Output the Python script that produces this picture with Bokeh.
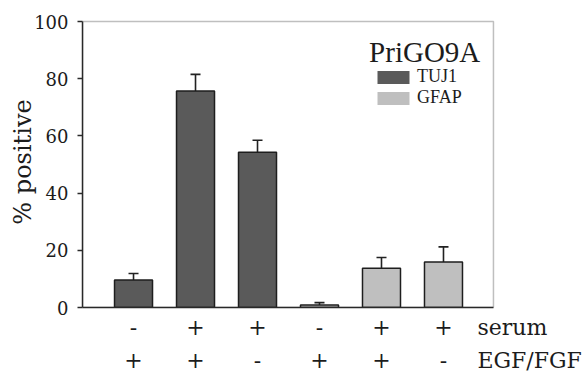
from bokeh.plotting import figure
from bokeh.models import (Range1d, FixedTicker, LinearAxis, Label, Legend, LegendItem,
                          Whisker, TeeHead, ColumnDataSource, BoxAnnotation)
from bokeh.embed import file_html
from bokeh.resources import INLINE

# ---- data ----
markers = ["TUJ1", "TUJ1", "TUJ1", "GFAP", "GFAP", "GFAP"]
serum = ["-", "+", "+", "-", "+", "+"]
egf_fgf = ["+", "+", "-", "+", "+", "-"]
values = [9.6, 75.7, 54.3, 0.9, 13.7, 15.9]
err_up = [2.3, 5.8, 4.2, 0.8, 3.8, 5.3]
y_ticks = [0, 20, 40, 60, 80, 100]
legend_title = "PriGO9A"
row_names = ["serum", "EGF/FGF"]
y_label = "% positive"

FONT = "Liberation Serif"
AXFONT = "DejaVu Serif"
TXT = "#1c1c1c"
LINE = "#2a2a2a"
colors = {"TUJ1": "#5a5a5a", "GFAP": "#bfbfbf"}

# layout constants (x in bar-index units)
X_LO, BOX_HI, X_HI = -0.823, 5.806, 7.323
SERUM_POS, EGF_POS = 6.113, 6.39

xs = list(range(len(values)))
src = ColumnDataSource(dict(
    x=xs, top=values,
    upper=[v + e for v, e in zip(values, err_up)],
    color=[colors[m] for m in markers],
))

p = figure(width=587, height=375, output_backend="svg", toolbar_location=None,
           x_range=Range1d(X_LO, X_HI), y_range=Range1d(0, 101.75),
           min_border_left=82, min_border_right=0, min_border_top=16,
           min_border_bottom=68)
p.background_fill_color = "white"
p.border_fill_color = "white"
p.outline_line_color = None
p.xgrid.visible = False
p.ygrid.visible = False

# plot box (top and right edges)
p.add_layout(BoxAnnotation(left=X_LO, right=BOX_HI, bottom=0, top=100,
                           fill_alpha=0, line_color=LINE, line_width=1.5))

wh = Whisker(base="x", upper="upper", lower="top", source=src,
             line_color="#222222", line_width=1.6,
             upper_head=TeeHead(size=10, line_color="#222222", line_width=1.6),
             lower_head=None, level="underlay")
p.add_layout(wh)

p.vbar(x="x", top="top", width=0.613, bottom=0, source=src,
       fill_color="color", line_color="#1e1e1e", line_width=1.5)

# legend swatches (no outline)
nan = float("nan")
r_t = p.vbar(x=[nan], top=[nan], width=0.5, fill_color=colors["TUJ1"], line_color=None)
r_g = p.vbar(x=[nan], top=[nan], width=0.5, fill_color=colors["GFAP"], line_color=None)
legend = Legend(items=[LegendItem(label="TUJ1", renderers=[r_t]),
                       LegendItem(label="GFAP", renderers=[r_g])],
                location=(291, 199), padding=0, margin=0, spacing=0,
                glyph_width=40, glyph_height=16, label_standoff=4,
                label_text_font="serif", label_text_font_size="18px",
                label_text_color=TXT, label_height=21,
                border_line_color=None, background_fill_alpha=0)
p.add_layout(legend)

p.add_layout(Label(x=3.80, y=89.5, text=legend_title, text_font=FONT,
                   text_font_size="29px", text_color=TXT,
                   text_baseline="middle", text_align="left"))

# y axis
p.yaxis.ticker = FixedTicker(ticks=y_ticks)
p.yaxis.bounds = (0, 100)
p.yaxis.minor_tick_line_color = None
p.yaxis.major_tick_out = 5
p.yaxis.major_tick_in = 0
p.yaxis.major_tick_line_color = LINE
p.yaxis.major_tick_line_width = 1.5
p.yaxis.axis_line_color = LINE
p.yaxis.axis_line_width = 1.5
p.yaxis.major_label_text_font = AXFONT
p.yaxis.major_label_text_font_size = "18px"
p.yaxis.major_label_text_color = TXT
p.yaxis.major_label_standoff = 9
p.yaxis.axis_label = y_label
p.yaxis.axis_label_text_font = AXFONT
p.yaxis.axis_label_text_font_size = "24px"
p.yaxis.axis_label_text_font_style = "normal"
p.yaxis.axis_label_text_color = TXT
p.yaxis.axis_label_standoff = -6

# x axis baseline (line only)
base = p.xaxis[0]
base.ticker = FixedTicker(ticks=[])
base.bounds = (X_LO, BOX_HI)
base.axis_line_color = LINE
base.axis_line_width = 1.5
base.major_tick_out = 0
base.major_tick_in = 0
base.major_label_standoff = 0
base.minor_tick_line_color = None

def cond_axis(labels, name, name_pos, standoff):
    ax = LinearAxis()
    ax.ticker = FixedTicker(ticks=xs + [name_pos])
    ov = {i: s for i, s in zip(xs, labels)}
    ov[name_pos] = name
    ax.major_label_overrides = ov
    ax.axis_line_color = None
    ax.major_tick_line_color = None
    ax.major_tick_out = 0
    ax.major_tick_in = 0
    ax.minor_tick_line_color = None
    ax.major_label_text_font = AXFONT
    ax.major_label_text_font_size = "22px"
    ax.major_label_text_color = TXT
    ax.major_label_standoff = standoff
    p.add_layout(ax, "below")
    return ax

cond_axis(serum, row_names[0], SERUM_POS, 7)
cond_axis(egf_fgf, row_names[1], EGF_POS, 5)

open("out.html", "w").write(file_html(p, INLINE))
